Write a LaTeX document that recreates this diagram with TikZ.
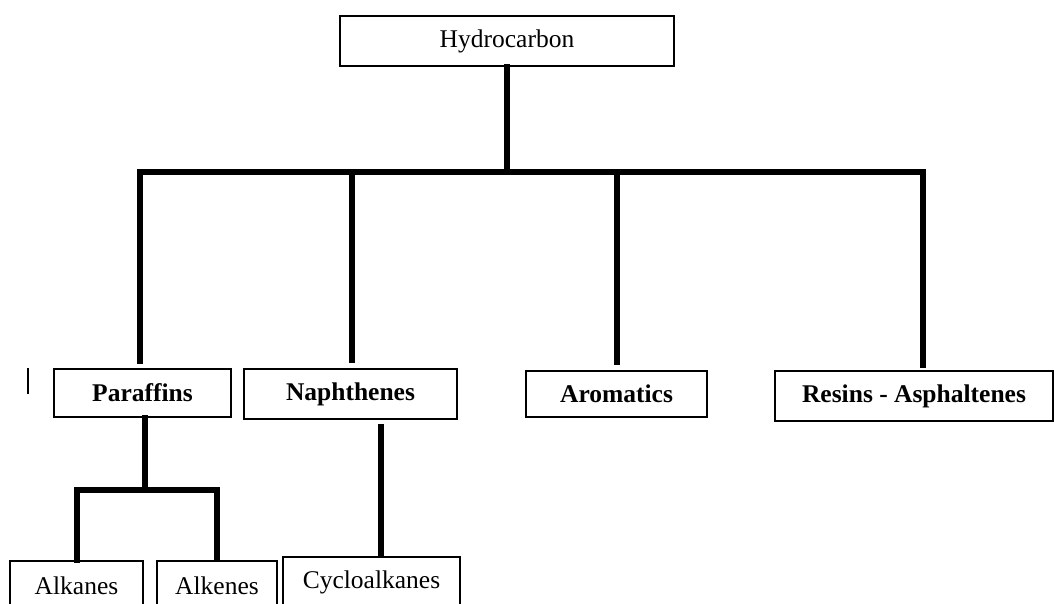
\documentclass[tikz,border=0pt]{standalone}
\usepackage{fontspec}
\setmainfont{Liberation Serif}
\usetikzlibrary{calc}

\tikzset{
  hcbox/.style={draw, line width=2pt, inner sep=0pt, font=\fontsize{25.5}{29}\selectfont},
  hcbold/.style={hcbox, font=\fontsize{25.5}{29}\selectfont\bfseries},
  conn/.style={line width=6pt, line cap=rect, line join=miter}
}

\begin{document}
\begin{tikzpicture}[x=1pt,y=-1pt]
      \useasboundingbox (0,0) rectangle (1054,603);
      \node[hcbox, minimum width=334pt, minimum height=50pt] (hc) at (507,41) {Hydrocarbon};
      \node[hcbold, minimum width=177pt, minimum height=48pt] (par) at (142.5,393) {Paraffins};
      \node[hcbold, minimum width=213pt, minimum height=50pt] (nap) at (350.5,394) {Naphthenes};
      \node[hcbold, minimum width=181pt, minimum height=46pt] (aro) at (616.5,394) {Aromatics};
      \node[hcbold, minimum width=278pt, minimum height=50pt] (res) at (914,396) {Resins - Asphaltenes};
      \node[hcbox, minimum width=133pt, minimum height=50pt] (alk) at (76.5,586) {Alkanes};
      \node[hcbox, minimum width=120pt, minimum height=50pt] (alke) at (217,586) {Alkenes};
      \node[hcbox, minimum width=177pt, minimum height=50pt] (cyc) at (371.5,582) {Cycloalkanes};
      % junctions
      \coordinate (top) at (507,172);
      \coordinate (b1) at (140,172);
      \coordinate (b2) at (352,172);
      \coordinate (b3) at (617,172);
      \coordinate (b4) at (923,172);
      \coordinate (sub) at (145,490);
      \coordinate (cy) at (381,427);
      % main tree
      \draw[conn] (hc) -- (top);
      \draw[conn] ([yshift=7pt]b1 |- par.north) -- (b1) -- (b4) -- ([yshift=5pt]b4 |- res.north);
      \draw[conn] (b2) -- ([yshift=8pt]b2 |- nap.north);
      \draw[conn] (b3) -- ([yshift=8pt]b3 |- aro.north);
      % paraffins
      \draw[conn] (sub |- par.south) -- (sub);
      \draw[conn] (alk.north) -- (alk.north |- sub) -- (alke.north |- sub) -- ([yshift=3pt]alke.north);
      % naphthenes
      \draw[conn] (cy) -- ([yshift=3pt]cy |- cyc.north);
      % stray mark
      \draw[line width=1.5pt] (28,368) -- (28,394);
\end{tikzpicture}
\end{document}
